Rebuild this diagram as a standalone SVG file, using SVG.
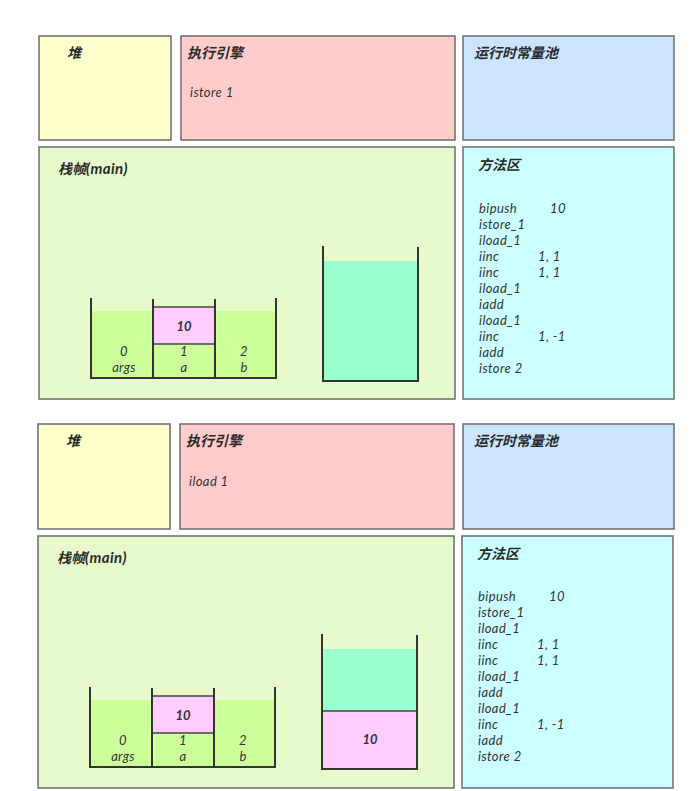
<svg xmlns="http://www.w3.org/2000/svg" width="692" height="791" viewBox="0 0 692 791">
<style>
.box{stroke:#6b6b6b;stroke-width:1.5}
.heap{fill:#FFFFCC}
.eng{fill:#FFCCCC}
.pool{fill:#CCE5FF}
.frame{fill:#E6FACC}
.meth{fill:#CCFFFF}
.t{font-family:Lato,"Noto Sans CJK SC",sans-serif;font-style:italic;fill:#333}
.title{font-size:14px;font-weight:bold;fill:#2a2a2a}
.lat{font-size:15px;letter-spacing:0.4px}
.code{font-size:13px;letter-spacing:0.4px}
.num{font-size:13px;font-weight:bold;text-anchor:middle}
.lbl{font-size:13px;text-anchor:middle;letter-spacing:0.3px}
.wall{fill:none;stroke:#333;stroke-width:2}
.lv{fill:#CCFF99}
.pk{fill:#FFCCFF;stroke:#444;stroke-width:1.5}
.op{fill:#99FFCC}
</style>
<rect width="692" height="791" fill="#ffffff"/>

<!-- ===== Top snapshot ===== -->
<g id="heap1"><rect class="box heap" x="39" y="36" width="132" height="104"/><text class="t title" x="67" y="58">堆</text></g>
<g id="engine1"><rect class="box eng" x="181" y="36" width="274" height="104"/><text class="t title" x="187" y="58">执行引擎</text><text class="t code" x="190" y="97">istore  1</text></g>
<g id="pool1"><rect class="box pool" x="463" y="36" width="211" height="104"/><text class="t title" x="474" y="58">运行时常量池</text></g>
<g id="frame1"><rect class="box frame" x="39" y="147" width="416" height="252"/><text class="t title" x="58" y="174">栈帧<tspan class="lat">(main)</tspan></text></g>
<g id="locals1">
<rect class="lv" x="91" y="311" width="185" height="67"/>
<rect class="pk" x="153" y="307" width="62" height="37"/>
<path class="wall" d="M91,298 V378 H276 V298 M153,299 V378 M215,299 V378"/>
<text class="t num" x="184" y="331">10</text>
<text class="t lbl" x="124" y="356">0</text><text class="t lbl" x="124" y="372">args</text>
<text class="t lbl" x="184" y="356">1</text><text class="t lbl" x="184" y="372">a</text>
<text class="t lbl" x="244" y="356">2</text><text class="t lbl" x="244" y="372">b</text>
</g>
<g id="opstack1">
<rect class="op" x="323" y="261" width="95" height="120"/>
<path class="wall" d="M323,246 V381 H418 V247"/>
</g>
<g id="method1"><rect class="box meth" x="463" y="147" width="211" height="252"/><text class="t title" x="478" y="170">方法区</text>
<g class="t code">
<text x="479" y="213">bipush</text><text x="550" y="213">10</text>
<text x="479" y="229">istore_1</text>
<text x="479" y="245">iload_1</text>
<text x="479" y="261">iinc</text><text x="538" y="261">1, 1</text>
<text x="479" y="277">iinc</text><text x="538" y="277">1, 1</text>
<text x="479" y="293">iload_1</text>
<text x="479" y="309">iadd</text>
<text x="479" y="325">iload_1</text>
<text x="479" y="341">iinc</text><text x="538" y="341">1, -1</text>
<text x="479" y="357">iadd</text>
<text x="479" y="373">istore  2</text>
</g></g>

<!-- ===== Bottom snapshot ===== -->
<g id="heap2"><rect class="box heap" x="38" y="424" width="132" height="105"/><text class="t title" x="66" y="446">堆</text></g>
<g id="engine2"><rect class="box eng" x="180" y="424" width="274" height="105"/><text class="t title" x="186" y="446">执行引擎</text><text class="t code" x="189" y="486">iload 1</text></g>
<g id="pool2"><rect class="box pool" x="463" y="424" width="211" height="105"/><text class="t title" x="474" y="446">运行时常量池</text></g>
<g id="frame2"><rect class="box frame" x="38" y="536" width="416" height="252"/><text class="t title" x="57" y="563">栈帧<tspan class="lat">(main)</tspan></text></g>
<g id="locals2">
<rect class="lv" x="90" y="700" width="185" height="67"/>
<rect class="pk" x="152" y="696" width="62" height="37"/>
<path class="wall" d="M90,687 V767 H275 V687 M152,688 V767 M214,688 V767"/>
<text class="t num" x="183" y="720">10</text>
<text class="t lbl" x="123" y="745">0</text><text class="t lbl" x="123" y="761">args</text>
<text class="t lbl" x="183" y="745">1</text><text class="t lbl" x="183" y="761">a</text>
<text class="t lbl" x="243" y="745">2</text><text class="t lbl" x="243" y="761">b</text>
</g>
<g id="opstack2">
<rect class="op" x="322" y="649" width="95" height="62"/>
<rect class="pk" x="322" y="711" width="95" height="58"/>
<path class="wall" d="M322,634 V769 H417 V635"/>
<text class="t num" x="370" y="744">10</text>
</g>
<g id="method2"><rect class="box meth" x="462" y="536" width="211" height="252"/><text class="t title" x="477" y="559">方法区</text>
<g class="t code">
<text x="478" y="601">bipush</text><text x="549" y="601">10</text>
<text x="478" y="617">istore_1</text>
<text x="478" y="633">iload_1</text>
<text x="478" y="649">iinc</text><text x="537" y="649">1, 1</text>
<text x="478" y="665">iinc</text><text x="537" y="665">1, 1</text>
<text x="478" y="681">iload_1</text>
<text x="478" y="697">iadd</text>
<text x="478" y="713">iload_1</text>
<text x="478" y="729">iinc</text><text x="537" y="729">1, -1</text>
<text x="478" y="745">iadd</text>
<text x="478" y="761">istore  2</text>
</g></g>
<g id="connectors"/>
</svg>
